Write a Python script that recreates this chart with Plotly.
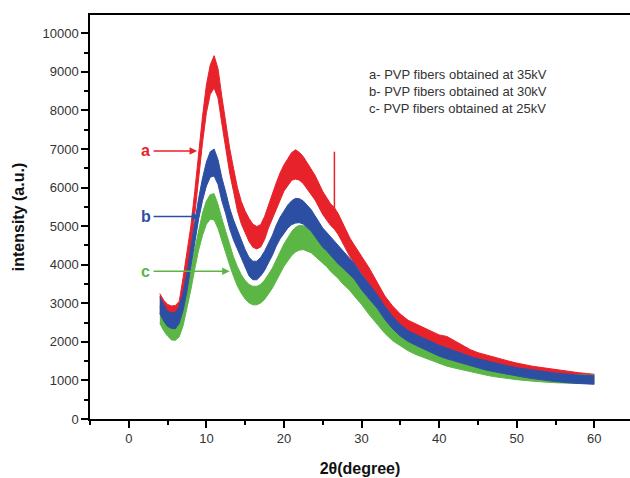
import plotly.graph_objects as go

# 2-theta grid (degrees)
two_theta = [4, 4.5, 5, 5.5, 6, 6.5, 7, 7.5, 8, 8.5, 9, 9.5, 10, 10.5, 11, 11.5, 12, 12.5,
             13, 13.5, 14, 14.5, 15, 15.5, 16, 16.5, 17, 17.5, 18, 18.5, 19, 19.5, 20, 20.5,
             21, 21.5, 22, 22.5, 23, 23.5, 24, 24.5, 25, 25.5, 26, 26.5, 27, 27.5, 28, 28.5,
             29, 29.5, 30, 31, 32, 33, 34, 35, 36, 37, 38, 39, 40, 41, 42, 43, 44, 45, 46,
             47, 48, 49, 50, 51, 52, 53, 54, 55, 56, 57, 58, 59, 60]

# a - 35 kV (red): band centre and noise half-width
a_center = [3000, 2850, 2750, 2700, 2700, 2800, 3400, 4000, 4700, 5600, 6600, 7500, 8300, 8800,
            9000, 8700, 8000, 7300, 6700, 6200, 5700, 5350, 5100, 4900, 4750, 4700, 4750, 4950,
            5250, 5500, 5800, 6050, 6250, 6400, 6550, 6600, 6550, 6450, 6300, 6150, 6000, 5800,
            5600, 5450, 5300, 5200, 5050, 4850, 4650, 4450, 4300, 4150, 4000, 3700, 3350, 3000,
            2750, 2550, 2400, 2300, 2200, 2100, 2000, 1950, 1850, 1750, 1650, 1580, 1520, 1470,
            1420, 1370, 1320, 1280, 1250, 1220, 1190, 1160, 1130, 1110, 1090, 1070, 1050]
a_noise = [250, 230, 220, 230, 240, 250, 260, 280, 300, 300, 320, 340, 360, 380, 420, 380, 350,
           330, 320, 300, 300, 290, 290, 300, 300, 290, 290, 300, 300, 310, 320, 330, 340, 350,
           360, 380, 360, 350, 340, 330, 320, 310, 300, 290, 280, 280, 270, 260, 250, 240, 230,
           230, 220, 210, 200, 190, 180, 170, 160, 160, 160, 170, 180, 190, 170, 160, 150, 140,
           140, 130, 130, 130, 130, 120, 120, 120, 120, 120, 120, 110, 110, 110, 110]
a_spike_theta = [26.5, 26.5]
a_spike_range = [5200, 6930]

# b - 30 kV (blue)
b_center = [2950, 2750, 2600, 2550, 2550, 2700, 3050, 3550, 4200, 4850, 5450, 5950, 6350, 6600,
            6650, 6400, 5950, 5600, 5200, 4900, 4650, 4400, 4150, 3950, 3850, 3850, 3950, 4100,
            4300, 4500, 4750, 4950, 5100, 5250, 5350, 5400, 5400, 5350, 5250, 5150, 5000, 4850,
            4700, 4600, 4480, 4380, 4250, 4150, 4050, 3950, 3850, 3700, 3550, 3300, 3050, 2750,
            2500, 2300, 2150, 2050, 1950, 1850, 1770, 1700, 1630, 1560, 1500, 1440, 1390, 1340,
            1300, 1260, 1220, 1190, 1160, 1130, 1100, 1080, 1060, 1040, 1030, 1020, 1010]
b_noise = [220, 210, 200, 200, 210, 220, 230, 240, 250, 260, 270, 290, 310, 330, 350, 320, 300,
           280, 270, 260, 250, 250, 240, 240, 240, 240, 240, 250, 250, 260, 270, 280, 290, 300,
           310, 320, 310, 300, 290, 280, 270, 260, 250, 240, 240, 230, 230, 220, 220, 210, 210,
           200, 200, 190, 180, 170, 160, 150, 140, 140, 140, 140, 140, 140, 130, 130, 120, 120,
           120, 110, 110, 110, 110, 110, 110, 110, 110, 110, 110, 110, 110, 110, 110]

# c - 25 kV (green)
c_center = [2700, 2500, 2350, 2250, 2250, 2350, 2650, 3100, 3600, 4150, 4650, 5050, 5350, 5500,
            5500, 5250, 4900, 4600, 4250, 3950, 3700, 3500, 3350, 3250, 3200, 3200, 3250, 3350,
            3500, 3650, 3850, 4050, 4250, 4400, 4550, 4650, 4700, 4700, 4650, 4600, 4500, 4400,
            4300, 4200, 4080, 3980, 3880, 3750, 3650, 3550, 3420, 3300, 3180, 2900, 2650, 2400,
            2200, 2050, 1920, 1820, 1730, 1650, 1580, 1510, 1450, 1400, 1350, 1300, 1260, 1220,
            1190, 1160, 1130, 1110, 1090, 1070, 1060, 1050, 1040, 1040, 1030, 1030, 1030]
c_noise = [220, 210, 200, 200, 210, 220, 230, 240, 250, 260, 270, 290, 300, 320, 340, 310, 290,
           270, 260, 250, 250, 240, 240, 240, 240, 240, 240, 250, 250, 260, 270, 280, 290, 300,
           310, 320, 320, 310, 300, 290, 280, 270, 260, 250, 250, 240, 240, 230, 230, 220, 220,
           210, 210, 200, 190, 180, 170, 160, 150, 150, 140, 140, 140, 140, 130, 130, 120, 120,
           120, 120, 120, 110, 110, 110, 110, 110, 110, 110, 110, 110, 110, 110, 110]

legend_lines = ["a- PVP fibers obtained at 35kV",
                "b- PVP fibers obtained at 30kV",
                "c- PVP fibers obtained at 25kV"]

RED = "#e8222b"
BLUE = "#2d4fa3"
GREEN = "#5cb646"

fig = go.Figure()


def add_band(center, noise, color):
    upper = [c + n for c, n in zip(center, noise)]
    lower = [c - n for c, n in zip(center, noise)]
    fig.add_trace(go.Scatter(x=two_theta, y=lower, mode="lines",
                             line=dict(color=color, width=1), showlegend=False,
                             hoverinfo="skip"))
    fig.add_trace(go.Scatter(x=two_theta, y=upper, mode="lines", fill="tonexty",
                             fillcolor=color, line=dict(color=color, width=1),
                             showlegend=False, hoverinfo="skip"))


add_band(a_center, a_noise, RED)
fig.add_trace(go.Scatter(x=a_spike_theta, y=a_spike_range, mode="lines",
                         line=dict(color=RED, width=1.5), showlegend=False))
add_band(c_center, c_noise, GREEN)
add_band(b_center, b_noise, BLUE)

# curve labels with arrows
labels = [("a", RED, 6950, 8.8), ("b", BLUE, 5250, 9.1), ("c", GREEN, 3830, 13.0)]
for txt, col, yv, xend in labels:
    fig.add_annotation(x=xend, y=yv, ax=3.0, ay=yv, xref="x", yref="y", axref="x", ayref="y",
                       showarrow=True, arrowhead=2, arrowsize=1, arrowwidth=1.5,
                       arrowcolor=col, text="")
    fig.add_annotation(x=2.2, y=yv, xref="x", yref="y", text="<b>" + txt + "</b>",
                       showarrow=False, font=dict(color=col, size=16,
                                                  family="Liberation Sans, Arial"))

fig.add_annotation(x=0.513, y=0.81, xref="paper", yref="paper", xanchor="left",
                   yanchor="middle", align="left", showarrow=False,
                   text="<br>".join(legend_lines),
                   font=dict(size=13, color="#333333", family="Liberation Sans, Arial"))

axis_font = dict(size=13, color="#333333", family="Liberation Sans, Arial")
title_font = dict(size=16, color="#111111", family="Liberation Sans, Arial")

fig.update_layout(
    width=630, height=478,
    margin=dict(l=90, r=0, t=15, b=59),
    paper_bgcolor="white", plot_bgcolor="white",
    showlegend=False,
    xaxis=dict(range=[-5, 64.6], tickvals=[0, 10, 20, 30, 40, 50, 60],
               ticks="outside", ticklen=7, tickwidth=1.5, tickcolor="black",
               showline=True, linecolor="black", linewidth=1.5, mirror=True,
               showgrid=False, zeroline=False, tickfont=axis_font, automargin=False,
               minor=dict(tickvals=[-5, 5, 15, 25, 35, 45, 55], ticks="outside",
                          ticklen=4, tickwidth=1.5, tickcolor="black"),
               title=dict(text="<b>2θ(degree)</b>", font=title_font, standoff=17)),
    yaxis=dict(range=[0, 10474], tick0=0, dtick=1000, tickformat="d",
               ticks="outside", ticklen=7, tickwidth=1.5, tickcolor="black",
               showline=True, linecolor="black", linewidth=1.5, automargin=False,
               showgrid=False, zeroline=False, tickfont=axis_font,
               minor=dict(dtick=500, ticks="outside", ticklen=4, tickwidth=1.5,
                          tickcolor="black"),
               title=dict(text="<b>intensity (a.u.)</b>", font=title_font, standoff=14)),
)

fig.write_html("out.html", config={"displayModeBar": False},
               post_script="document.body.style.margin='0';")
